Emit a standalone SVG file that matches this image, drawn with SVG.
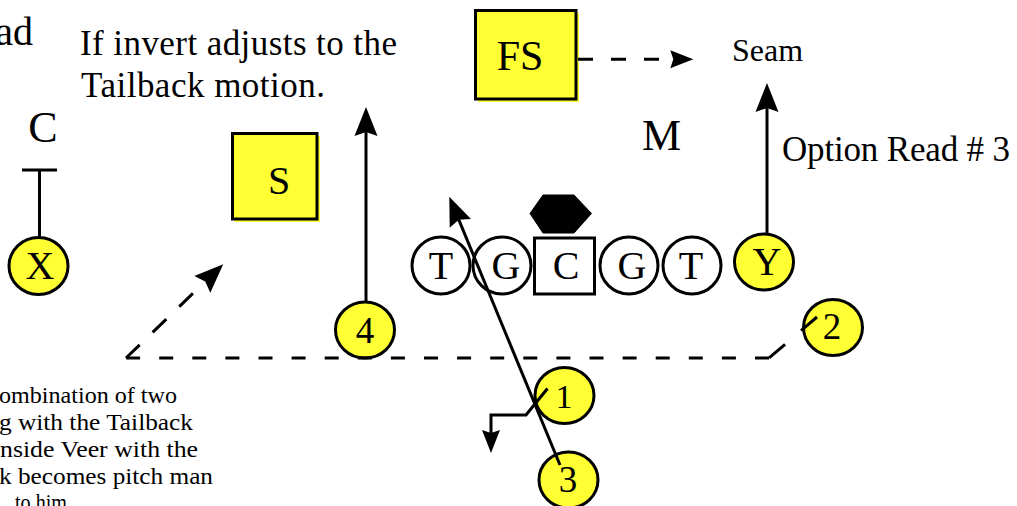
<svg xmlns="http://www.w3.org/2000/svg" width="1017" height="506" viewBox="0 0 1017 506">
<style>
text{font-family:"Liberation Serif","Times New Roman",serif;fill:#000}
.big{font-size:44px}
.lbl{font-size:40px;text-anchor:middle}
.note{font-size:35px}
.small{font-size:24px}
.player{fill:#FFFF33;stroke:#000;stroke-width:3}
.ol{fill:#fff;stroke:#000;stroke-width:3}
.box{fill:#FFFF33;stroke:#000;stroke-width:3}
.shadow{fill:#FFFF33;stroke:none}
.route{fill:none;stroke:#000;stroke-width:3}
.dash{stroke-dasharray:15 18}
</style>
<defs>
<marker id="ah" viewBox="-20 -12 31 24" markerWidth="31" markerHeight="24" refX="0" refY="0" orient="auto" markerUnits="userSpaceOnUse">
<path d="M10,0 L-19,-11.5 L-15,0 L-19,11.5 Z" fill="#000"/>
</marker>
<marker id="ahs" viewBox="-16 -10 25 20" markerWidth="25" markerHeight="20" refX="0" refY="0" orient="auto" markerUnits="userSpaceOnUse">
<path d="M8,0 L-15,-9 L-12,0 L-15,9 Z" fill="#000"/>
</marker>
</defs>
<rect width="1017" height="506" fill="#fff"/>

<g id="texts">
<text x="33" y="45" text-anchor="end" style="font-size:40px">ad</text>
<text class="note" x="80" y="55" textLength="317" lengthAdjust="spacing">If invert adjusts to the</text>
<text class="note" x="81" y="97" textLength="244" lengthAdjust="spacing">Tailback motion.</text>
<text style="font-size:32px" x="732" y="61" textLength="71" lengthAdjust="spacingAndGlyphs">Seam</text>
<text class="note" x="782" y="160.5" textLength="228" lengthAdjust="spacing">Option Read # 3</text>
<text class="small" x="-1" y="403" textLength="178" lengthAdjust="spacingAndGlyphs">ombination of two</text>
<text class="small" x="-1" y="430" textLength="194" lengthAdjust="spacingAndGlyphs">g with the Tailback</text>
<text class="small" x="0" y="457" textLength="198" lengthAdjust="spacingAndGlyphs">nside Veer with the</text>
<text class="small" x="-1" y="483.5" textLength="214" lengthAdjust="spacingAndGlyphs">k becomes pitch man</text>
<text class="small" x="15" y="510" textLength="52" lengthAdjust="spacingAndGlyphs">to him</text>
</g>

<g id="node-C-def">
<text class="big" x="43" y="142" text-anchor="middle">C</text>
</g>
<g id="node-M">
<text class="big" x="661.5" y="150" text-anchor="middle">M</text>
</g>
<g id="node-S">
<rect class="shadow" x="235" y="136" width="85" height="86"/>
<rect class="box" x="232.5" y="133.5" width="84.5" height="85.5"/>
<text class="lbl" x="279" y="194">S</text>
</g>
<g id="node-FS">
<rect class="shadow" x="478" y="13" width="101" height="89"/>
<rect class="box" x="475.5" y="10.5" width="100.5" height="88.5"/>
<text class="lbl" x="520" y="70" style="font-size:42px">FS</text>
</g>
<g id="node-hex">
<path d="M530,213.5 L543,195 L574,195 L591.5,213.5 L574,233 L543,233 Z" fill="#000" stroke="#000" stroke-width="1" stroke-linejoin="round"/>
</g>
<g id="node-X">
<ellipse class="player" cx="38.5" cy="266" rx="29.5" ry="28.5"/>
<text class="lbl" x="40" y="278.5">X</text>
</g>
<g id="node-LT">
<ellipse class="ol" cx="441" cy="265.5" rx="29" ry="28.5"/>
<text class="lbl" x="441" y="278.5">T</text>
</g>
<g id="node-LG">
<ellipse class="ol" cx="502" cy="265.5" rx="29" ry="28.5"/>
<text class="lbl" x="506" y="278.5">G</text>
</g>
<g id="node-C">
<rect class="ol" x="534.5" y="238" width="60" height="56"/>
<text class="lbl" x="566" y="278.5">C</text>
</g>
<g id="node-RG">
<ellipse class="ol" cx="629" cy="265.5" rx="29" ry="28.5"/>
<text class="lbl" x="632" y="278.5">G</text>
</g>
<g id="node-RT">
<ellipse class="ol" cx="692" cy="265.5" rx="29" ry="28.5"/>
<text class="lbl" x="691" y="278.5">T</text>
</g>
<g id="node-Y">
<ellipse class="player" cx="764" cy="262" rx="29.5" ry="28"/>
<text class="lbl" x="767" y="274.5">Y</text>
</g>
<g id="node-2">
<ellipse class="player" cx="833" cy="327.5" rx="29.5" ry="28"/>
<text class="lbl" x="832" y="338.5" style="font-size:37px">2</text>
</g>
<g id="node-4">
<ellipse class="player" cx="365" cy="330" rx="29.5" ry="28"/>
<text class="lbl" x="365" y="343" style="font-size:37px">4</text>
</g>
<g id="node-1">
<ellipse class="player" cx="564.5" cy="395.5" rx="29.5" ry="28"/>
<text class="lbl" x="564" y="407.5" style="font-size:34px">1</text>
</g>
<g id="node-3">
<ellipse class="player" cx="568.5" cy="480" rx="29.5" ry="28"/>
<text class="lbl" x="568" y="492" style="font-size:37px">3</text>
</g>

<g id="connectors">
<path class="route" d="M22,170 L57,170 M39.5,170 L39.5,237.5"/>
<path class="route" d="M366,302 L366,117" marker-end="url(#ah)"/>
<path class="route" d="M767,234 L767,93" marker-end="url(#ah)"/>
<path class="route" d="M560,465 L453.1,205.9" marker-end="url(#ah)"/>
<path class="route" d="M547.5,388.5 L526,415 L491,415 L491,445" marker-end="url(#ahs)"/>
<path class="route dash" d="M578,59.3 L685.3,59.3" marker-end="url(#ahs)"/>
<path class="route" style="stroke-dasharray:21 21" d="M817,317 L769,358"/>
<path class="route" style="stroke-dasharray:14 19.1;stroke-linecap:butt" d="M769,358 L126,358"/>
<path class="route" style="stroke-dasharray:19 18" d="M126,358 L216,271.2" marker-end="url(#ah)"/>
</g>
</svg>
